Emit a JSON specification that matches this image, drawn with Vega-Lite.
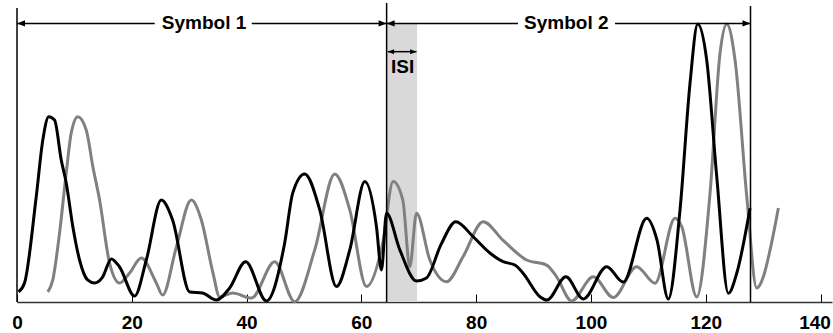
{
  "$schema": "https://vega.github.io/schema/vega-lite/v6.json",
  "autosize": "none",
  "width": 815,
  "height": 294,
  "padding": {"left": 17, "top": 8, "right": 1, "bottom": 31},
  "background": "white",
  "config": {"view": {"stroke": null}, "font": "Liberation Sans"},
  "datasets": {
    "signal": [
      {"t": 0.26, "amp": 3.6, "s": "black"}, {"t": 1.31, "amp": 6.8, "s": "black"}, {"t": 3.35, "amp": 37.6, "s": "black"}, {"t": 4.5, "amp": 57.9, "s": "black"}, {"t": 5.54, "amp": 66.2, "s": "black"}, {"t": 6.54, "amp": 65.0, "s": "black"}, {"t": 7.71, "amp": 50.7, "s": "black"}, {"t": 8.58, "amp": 42.5, "s": "black"}, {"t": 9.73, "amp": 26.9, "s": "black"}, {"t": 10.9, "amp": 15.0, "s": "black"}, {"t": 12.29, "amp": 7.9, "s": "black"}, {"t": 13.51, "amp": 6.8, "s": "black"}, {"t": 14.91, "amp": 8.9, "s": "black"}, {"t": 16.43, "amp": 15.4, "s": "black"}, {"t": 17.87, "amp": 12.5, "s": "black"}, {"t": 20.49, "amp": 2.1, "s": "black"}, {"t": 22.53, "amp": 15.0, "s": "black"}, {"t": 25.14, "amp": 36.4, "s": "black"}, {"t": 27.11, "amp": 29.3, "s": "black"}, {"t": 30.08, "amp": 3.6, "s": "black"}, {"t": 32.35, "amp": 3.2, "s": "black"}, {"t": 34.73, "amp": 0.7, "s": "black"}, {"t": 37.05, "amp": 5.0, "s": "black"}, {"t": 39.84, "amp": 14.4, "s": "black"}, {"t": 43.45, "amp": 0.4, "s": "black"}, {"t": 46.64, "amp": 21.1, "s": "black"}, {"t": 48.04, "amp": 38.9, "s": "black"}, {"t": 50.13, "amp": 45.7, "s": "black"}, {"t": 52.75, "amp": 32.9, "s": "black"}, {"t": 55.66, "amp": 5.5, "s": "black"}, {"t": 57.98, "amp": 18.6, "s": "black"}, {"t": 60.6, "amp": 43.0, "s": "black"}, {"t": 62.63, "amp": 26.9, "s": "black"}, {"t": 63.5, "amp": 11.4, "s": "black"}, {"t": 64.38, "amp": 31.7, "s": "black"}, {"t": 66.7, "amp": 18.6, "s": "black"}, {"t": 69.6, "amp": 7.5, "s": "black"}, {"t": 71.35, "amp": 8.6, "s": "black"}, {"t": 73.85, "amp": 20.4, "s": "black"}, {"t": 76.46, "amp": 28.7, "s": "black"}, {"t": 79.48, "amp": 23.3, "s": "black"}, {"t": 82.39, "amp": 17.5, "s": "black"}, {"t": 84.71, "amp": 14.4, "s": "black"}, {"t": 86.75, "amp": 13.2, "s": "black"}, {"t": 88.14, "amp": 10.4, "s": "black"}, {"t": 91.11, "amp": 1.9, "s": "black"}, {"t": 92.33, "amp": 0.7, "s": "black"}, {"t": 95.64, "amp": 9.0, "s": "black"}, {"t": 98.66, "amp": 1.1, "s": "black"}, {"t": 102.74, "amp": 12.6, "s": "black"}, {"t": 105.63, "amp": 7.1, "s": "black"}, {"t": 109.71, "amp": 29.9, "s": "black"}, {"t": 111.51, "amp": 22.1, "s": "black"}, {"t": 113.48, "amp": 1.1, "s": "black"}, {"t": 115.52, "amp": 32.9, "s": "black"}, {"t": 117.26, "amp": 78.1, "s": "black"}, {"t": 118.6, "amp": 99.3, "s": "black"}, {"t": 120.17, "amp": 86.4, "s": "black"}, {"t": 121.92, "amp": 44.75, "s": "black"}, {"t": 123.94, "amp": 3.1, "s": "black"}, {"t": 125.4, "amp": 10.25, "s": "black"}, {"t": 127.72, "amp": 33.5, "s": "black"},
      {"t": 5.37, "amp": 3.6, "s": "grey"}, {"t": 6.24, "amp": 7.9, "s": "grey"}, {"t": 7.41, "amp": 24.6, "s": "grey"}, {"t": 8.58, "amp": 46.1, "s": "grey"}, {"t": 9.45, "amp": 60.4, "s": "grey"}, {"t": 10.6, "amp": 66.2, "s": "grey"}, {"t": 12.07, "amp": 61.4, "s": "grey"}, {"t": 13.22, "amp": 48.3, "s": "grey"}, {"t": 14.39, "amp": 36.4, "s": "grey"}, {"t": 16.13, "amp": 13.9, "s": "grey"}, {"t": 17.87, "amp": 6.8, "s": "grey"}, {"t": 19.62, "amp": 10.4, "s": "grey"}, {"t": 21.66, "amp": 15.7, "s": "grey"}, {"t": 24.27, "amp": 6.8, "s": "grey"}, {"t": 25.37, "amp": 2.5, "s": "grey"}, {"t": 27.76, "amp": 19.6, "s": "grey"}, {"t": 30.37, "amp": 36.4, "s": "grey"}, {"t": 32.12, "amp": 29.3, "s": "grey"}, {"t": 34.14, "amp": 10.4, "s": "grey"}, {"t": 35.31, "amp": 1.8, "s": "grey"}, {"t": 37.58, "amp": 3.2, "s": "grey"}, {"t": 40.84, "amp": 1.4, "s": "grey"}, {"t": 44.9, "amp": 14.4, "s": "grey"}, {"t": 48.39, "amp": 0.1, "s": "grey"}, {"t": 51.87, "amp": 18.6, "s": "grey"}, {"t": 55.36, "amp": 45.7, "s": "grey"}, {"t": 57.98, "amp": 32.9, "s": "grey"}, {"t": 60.89, "amp": 5.5, "s": "grey"}, {"t": 63.73, "amp": 21.1, "s": "grey"}, {"t": 65.53, "amp": 43.0, "s": "grey"}, {"t": 67.22, "amp": 36.4, "s": "grey"}, {"t": 68.44, "amp": 12.6, "s": "grey"}, {"t": 69.61, "amp": 31.7, "s": "grey"}, {"t": 71.93, "amp": 15.0, "s": "grey"}, {"t": 74.84, "amp": 7.25, "s": "grey"}, {"t": 77.73, "amp": 16.2, "s": "grey"}, {"t": 81.22, "amp": 28.7, "s": "grey"}, {"t": 84.66, "amp": 22.1, "s": "grey"}, {"t": 88.79, "amp": 15.0, "s": "grey"}, {"t": 92.28, "amp": 13.2, "s": "grey"}, {"t": 94.02, "amp": 9.0, "s": "grey"}, {"t": 96.64, "amp": 0.4, "s": "grey"}, {"t": 100.4, "amp": 9.0, "s": "grey"}, {"t": 103.89, "amp": 1.6, "s": "grey"}, {"t": 107.97, "amp": 12.6, "s": "grey"}, {"t": 111.16, "amp": 6.7, "s": "grey"}, {"t": 114.65, "amp": 29.9, "s": "grey"}, {"t": 115.82, "amp": 26.9, "s": "grey"}, {"t": 118.43, "amp": 1.8, "s": "grey"}, {"t": 120.75, "amp": 38.8, "s": "grey"}, {"t": 122.49, "amp": 88.8, "s": "grey"}, {"t": 123.66, "amp": 99.3, "s": "grey"}, {"t": 125.11, "amp": 86.4, "s": "grey"}, {"t": 127.15, "amp": 37.6, "s": "grey"}, {"t": 128.89, "amp": 5.0, "s": "grey"}, {"t": 130.04, "amp": 9.0, "s": "grey"}, {"t": 131.21, "amp": 18.6, "s": "grey"}, {"t": 132.66, "amp": 33.6, "s": "grey"}
    ],
    "band": [{"start": 64.4, "end": 69.7, "top": 99.6, "base": 0}],
    "bounds": [{"t": 0, "top": 105, "base": 0}, {"t": 64.4, "top": 106.8, "base": 0}, {"t": 127.8, "top": 105.7, "base": 0}],
    "spans": [
      {"from": 0, "to": 24.0, "lvl": 99.5},
      {"from": 40.9, "to": 64.4, "lvl": 99.5},
      {"from": 64.4, "to": 87.3, "lvl": 99.5},
      {"from": 104.2, "to": 127.8, "lvl": 99.5},
      {"from": 64.6, "to": 69.6, "lvl": 89.4}
    ],
    "heads": [
      {"t": 0, "lvl": 99.5, "dir": "left"},
      {"t": 64.4, "lvl": 99.5, "dir": "right"},
      {"t": 64.4, "lvl": 99.5, "dir": "left"},
      {"t": 127.8, "lvl": 99.5, "dir": "right"}
    ],
    "isiHeads": [
      {"t": 64.6, "lvl": 89.4, "dir": "left"},
      {"t": 69.6, "lvl": 89.4, "dir": "right"}
    ],
    "labels": [
      {"t": 32.6, "lvl": 99.5, "label": "Symbol 1"},
      {"t": 95.7, "lvl": 99.5, "label": "Symbol 2"},
      {"t": 67.2, "lvl": 83.9, "label": "ISI"}
    ]
  },
  "layer": [
    {
      "data": {"name": "band"},
      "mark": {"type": "rect", "color": "#d9d9d9"},
      "encoding": {
        "x": {"field": "start", "type": "quantitative", "scale": {"domain": [0, 142], "nice": false, "zero": false},
          "axis": {"values": [0, 20, 40, 60, 80, 100, 120, 140], "grid": false, "title": null, "tickSize": -8, "tickColor": "#000", "domainColor": "#333", "domainWidth": 1.5, "labelFont": "Liberation Sans", "labelFontWeight": "bold", "labelFontSize": 19, "labelColor": "#000", "labelPadding": 19, "labelFlush": false, "labelOverlap": false, "labelBound": false,
            "labelOffset": {"condition": {"test": "datum.value === 140", "value": -6}, "value": 0}}},
        "x2": {"field": "end"},
        "y": {"field": "top", "type": "quantitative", "scale": {"domain": [0, 105], "nice": false}, "axis": null},
        "y2": {"field": "base"}
      }
    },
    {
      "data": {"name": "signal"},
      "transform": [{"filter": "datum.s === 'grey'"}],
      "mark": {"type": "line", "interpolate": "monotone", "color": "#808080", "strokeWidth": 3},
      "encoding": {
        "x": {"field": "t", "type": "quantitative"},
        "y": {"field": "amp", "type": "quantitative"}
      }
    },
    {
      "data": {"name": "signal"},
      "transform": [{"filter": "datum.s === 'black'"}],
      "mark": {"type": "line", "interpolate": "monotone", "color": "#000000", "strokeWidth": 3},
      "encoding": {
        "x": {"field": "t", "type": "quantitative"},
        "y": {"field": "amp", "type": "quantitative"}
      }
    },
    {
      "data": {"name": "bounds"},
      "mark": {"type": "rule", "color": "#000", "strokeWidth": 1.5},
      "encoding": {
        "x": {"field": "t", "type": "quantitative"},
        "y": {"field": "top", "type": "quantitative"},
        "y2": {"field": "base"}
      }
    },
    {
      "data": {"name": "spans"},
      "mark": {"type": "rule", "color": "#000", "strokeWidth": 1.5},
      "encoding": {
        "x": {"field": "from", "type": "quantitative"},
        "x2": {"field": "to"},
        "y": {"field": "lvl", "type": "quantitative"}
      }
    },
    {
      "data": {"name": "heads"},
      "mark": {"type": "point", "filled": true, "color": "#000", "opacity": 1, "size": 64},
      "encoding": {
        "x": {"field": "t", "type": "quantitative"},
        "y": {"field": "lvl", "type": "quantitative"},
        "shape": {"field": "dir", "type": "nominal", "legend": null,
          "scale": {"domain": ["left", "right"], "range": ["M0,0L2,-0.8L2,0.8Z", "M0,0L-2,-0.8L-2,0.8Z"]}}
      }
    },
    {
      "data": {"name": "isiHeads"},
      "mark": {"type": "point", "filled": true, "color": "#000", "opacity": 1, "size": 40},
      "encoding": {
        "x": {"field": "t", "type": "quantitative"},
        "y": {"field": "lvl", "type": "quantitative"},
        "shape": {"field": "dir", "type": "nominal", "legend": null,
          "scale": {"domain": ["left", "right"], "range": ["M0,0L2,-0.8L2,0.8Z", "M0,0L-2,-0.8L-2,0.8Z"]}}
      }
    },
    {
      "data": {"name": "labels"},
      "mark": {"type": "text", "font": "Liberation Sans", "fontWeight": "bold", "fontSize": 19, "color": "#000", "baseline": "middle", "align": "center"},
      "encoding": {
        "x": {"field": "t", "type": "quantitative"},
        "y": {"field": "lvl", "type": "quantitative"},
        "text": {"field": "label"}
      }
    }
  ]
}
